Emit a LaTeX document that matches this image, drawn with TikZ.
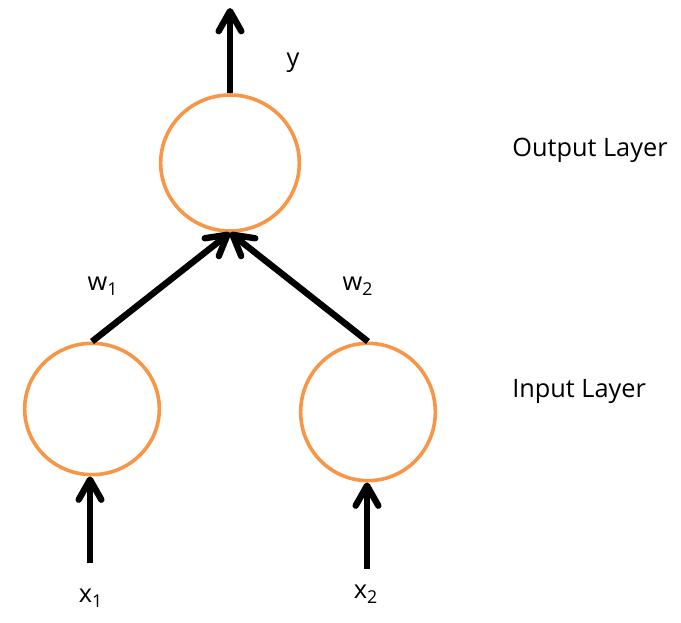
\documentclass[tikz,border=0pt]{standalone}
\usepackage{fontspec}
\setmainfont{Open Sans}
\usetikzlibrary{arrows.meta,shapes.geometric}
\definecolor{nodeorange}{HTML}{F79646}
\tikzset{
  neuron/.style={draw=nodeorange, line width=2.7pt, ellipse, inner sep=0pt},
  wire/.style={draw=black, line width=4.8pt},
  barb/.style={wire, -{Straight Barb[length=15pt,width=17pt,round]}},
  lbl/.style={font=\fontsize{19}{23}\selectfont, inner sep=0pt},
}
\begin{document}
\begin{tikzpicture}[x=0.75pt,y=-0.75pt]
\useasboundingbox (0,0) rectangle (681,623);
\node[neuron, minimum width=104pt, minimum height=102pt] (out) at (230,163) {};
\node[neuron, minimum width=101pt, minimum height=98.5pt] (in1) at (92,409) {};
\node[neuron, minimum width=101pt, minimum height=103pt] (in2) at (368,412) {};
\coordinate (ytop) at (230,8);
\coordinate (x1bot) at (90,563);
\coordinate (x2bot) at (367,569);
\draw[barb] (out.north) -- (ytop);
\draw[barb] (in1.north) -- (out.south);
\draw[barb] (in2.north) -- (out.south);
\draw[barb] (x1bot) -- (in1.south -| x1bot);
\draw[barb] (x2bot) -- (in2.south -| x2bot);
\node[lbl] (ylbl) at (293,63) {y};
\node[lbl] (w1) at (103,286) {w\textsubscript{1}};
\node[lbl] (w2) at (358,286) {w\textsubscript{2}};
\node[lbl] (x1) at (91,598) {x\textsubscript{1}};
\node[lbl] (x2) at (366,594) {x\textsubscript{2}};
\node[lbl, anchor=base west] (outlayer) at (512,157) {Output Layer};
\node[lbl, anchor=base west] (inlayer) at (512,397) {Input Layer};
\end{tikzpicture}
\end{document}
